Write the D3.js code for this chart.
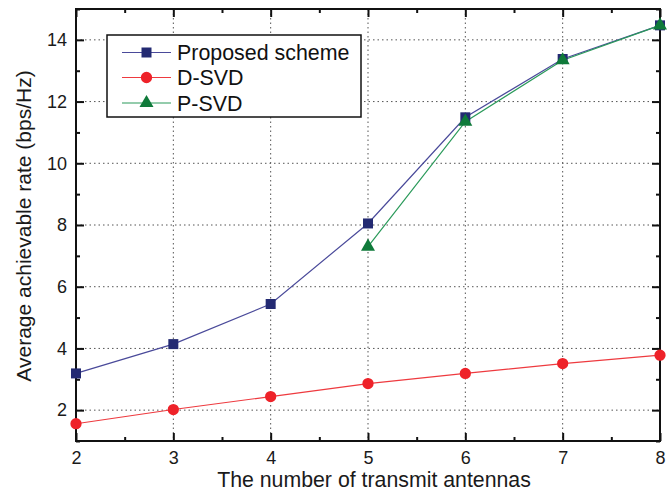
<!DOCTYPE html>
<html>
<head>
<meta charset="utf-8">
<script src="https://cdn.jsdelivr.net/npm/d3@7"></script>
<style>
  html, body { margin: 0; padding: 0; background: #fff; }
  svg { display: block; font-family: "Liberation Sans", Arial, Helvetica, sans-serif; }
</style>
</head>
<body>
<svg id="chart" width="672" height="494"></svg>
<script>
// Number of transmit antennas
const antennas = [2, 3, 4, 5, 6, 7, 8];
// Average achievable rate (bps/Hz) per scheme
const proposedRate = [3.19, 4.14, 5.44, 8.05, 11.49, 13.38, 14.47];
const dsvdRate = [1.56, 2.02, 2.44, 2.86, 3.19, 3.51, 3.78];
const psvdAntennas = [5, 6, 7, 8];
const psvdRate = [7.30, 11.35, 13.34, 14.47];

const xTicks = [2, 3, 4, 5, 6, 7, 8];
const yTicks = [2, 4, 6, 8, 10, 12, 14];

const seriesNames = ["Proposed scheme", "D-SVD", "P-SVD"];

const svg = d3.select("#chart");
const m = { left: 76, right: 12, top: 9, bottom: 53 };
const W = 672, H = 494;
const x = d3.scaleLinear().domain([2, 8]).range([m.left, W - m.right]);
const y = d3.scaleLinear().domain([1, 15]).range([H - m.bottom, m.top]);

const plotL = x.range()[0], plotR = x.range()[1];
const plotT = y.range()[1], plotB = y.range()[0];

// dotted grid at major ticks
const grid = svg.append("g");
grid.selectAll("line.gx").data(xTicks.slice(1, -1)).join("line")
  .attr("x1", d => x(d)).attr("x2", d => x(d))
  .attr("y1", plotT).attr("y2", plotB)
  .attr("stroke", "#555").attr("stroke-width", 1).attr("stroke-dasharray", "1.5,3");
grid.selectAll("line.gy").data(yTicks).join("line")
  .attr("x1", plotL).attr("x2", plotR)
  .attr("y1", d => y(d)).attr("y2", d => y(d))
  .attr("stroke", "#555").attr("stroke-width", 1).attr("stroke-dasharray", "1.5,3");

// axes: ticks point inward on all four sides
const xMinor = d3.range(2.5, 8, 1);
const yMinor = d3.range(1, 16, 2);

function styleAxis(g) {
  g.select(".domain").remove();
  g.selectAll(".tick line").attr("stroke", "#111").attr("stroke-width", 2);
  g.selectAll(".tick text").attr("fill", "#1a1a1a").style("font-size", "18px");
}

svg.append("g").attr("transform", `translate(0,${plotB})`)
  .call(d3.axisBottom(x).tickValues(xTicks).tickFormat(d3.format("d")).tickSizeInner(-8).tickPadding(10))
  .call(styleAxis);
svg.append("g").attr("transform", `translate(0,${plotB})`)
  .call(d3.axisBottom(x).tickValues(xMinor).tickFormat("").tickSizeInner(-4))
  .call(styleAxis);
svg.append("g").attr("transform", `translate(0,${plotT})`)
  .call(d3.axisTop(x).tickValues(xTicks).tickFormat("").tickSizeInner(-8))
  .call(styleAxis);
svg.append("g").attr("transform", `translate(0,${plotT})`)
  .call(d3.axisTop(x).tickValues(xMinor).tickFormat("").tickSizeInner(-4))
  .call(styleAxis);

svg.append("g").attr("transform", `translate(${plotL},0)`)
  .call(d3.axisLeft(y).tickValues(yTicks).tickFormat(d3.format("d")).tickSizeInner(-8).tickPadding(9))
  .call(styleAxis);
svg.append("g").attr("transform", `translate(${plotL},0)`)
  .call(d3.axisLeft(y).tickValues(yMinor).tickFormat("").tickSizeInner(-4))
  .call(styleAxis);
svg.append("g").attr("transform", `translate(${plotR},0)`)
  .call(d3.axisRight(y).tickValues(yTicks).tickFormat("").tickSizeInner(-8))
  .call(styleAxis);
svg.append("g").attr("transform", `translate(${plotR},0)`)
  .call(d3.axisRight(y).tickValues(yMinor).tickFormat("").tickSizeInner(-4))
  .call(styleAxis);

// frame
svg.append("rect").attr("x", plotL).attr("y", plotT)
  .attr("width", plotR - plotL).attr("height", plotB - plotT)
  .attr("fill", "none").attr("stroke", "#111").attr("stroke-width", 2);

// axis titles
svg.append("text").attr("x", 374).attr("y", 487)
  .attr("text-anchor", "middle").style("font-size", "21.3px").attr("fill", "#1a1a1a")
  .text("The number of transmit antennas");
svg.append("text").attr("transform", `translate(31,226) rotate(-90)`)
  .attr("text-anchor", "middle").style("font-size", "21px").attr("fill", "#1a1a1a")
  .text("Average achievable rate (bps/Hz)");

// series
const colors = { prop: "#232a72", propLine: "#4a4a9a", d: "#ee2229", dLine: "#ee3a3f", p: "#0f7a3a", pLine: "#2a9a5a" };
const line = d3.line().x(d => x(d[0])).y(d => y(d[1]));

const propData = antennas.map((a, i) => [a, proposedRate[i]]);
const dData = antennas.map((a, i) => [a, dsvdRate[i]]);
const pData = psvdAntennas.map((a, i) => [a, psvdRate[i]]);

const marks = svg.append("g");

marks.append("path").datum(dData).attr("d", line)
  .attr("fill", "none").attr("stroke", colors.dLine).attr("stroke-width", 1.2);
marks.append("path").datum(propData).attr("d", line)
  .attr("fill", "none").attr("stroke", colors.propLine).attr("stroke-width", 1.2);
marks.append("path").datum(pData).attr("d", line)
  .attr("fill", "none").attr("stroke", colors.pLine).attr("stroke-width", 1.2);

const sq = d3.symbol().type(d3.symbolSquare).size(100);
const circ = d3.symbol().type(d3.symbolCircle).size(100);
const tri = d3.symbol().type(d3.symbolTriangle).size(85);

marks.selectAll("path.mp").data(propData).join("path")
  .attr("d", sq).attr("transform", d => `translate(${x(d[0])},${y(d[1])})`).attr("fill", colors.prop);
marks.selectAll("path.md").data(dData).join("path")
  .attr("d", circ).attr("transform", d => `translate(${x(d[0])},${y(d[1])})`).attr("fill", colors.d);
marks.selectAll("path.mt").data(pData).join("path")
  .attr("d", tri).attr("transform", d => `translate(${x(d[0])},${y(d[1])})`).attr("fill", colors.p);

// legend
const lg = svg.append("g");
lg.append("rect").attr("x", 107).attr("y", 35).attr("width", 254).attr("height", 82)
  .attr("fill", "#fff").attr("stroke", "#111").attr("stroke-width", 1.5);
const legendItems = [
  { name: seriesNames[0], line: colors.propLine, mark: colors.prop, sym: sq },
  { name: seriesNames[1], line: colors.dLine, mark: colors.d, sym: circ },
  { name: seriesNames[2], line: colors.pLine, mark: colors.p, sym: tri }
];
const rowY = [52.5, 77.5, 103];
legendItems.forEach((it, i) => {
  const ry = rowY[i];
  lg.append("line").attr("x1", 122).attr("x2", 171).attr("y1", ry).attr("y2", ry)
    .attr("stroke", it.line).attr("stroke-width", 1.2);
  lg.append("path").attr("d", it.sym).attr("transform", `translate(146.5,${ry})`).attr("fill", it.mark);
  lg.append("text").attr("x", 177).attr("y", ry + 7.5).style("font-size", "21.4px").attr("fill", "#111")
    .text(it.name);
});
</script>
</body>
</html>
